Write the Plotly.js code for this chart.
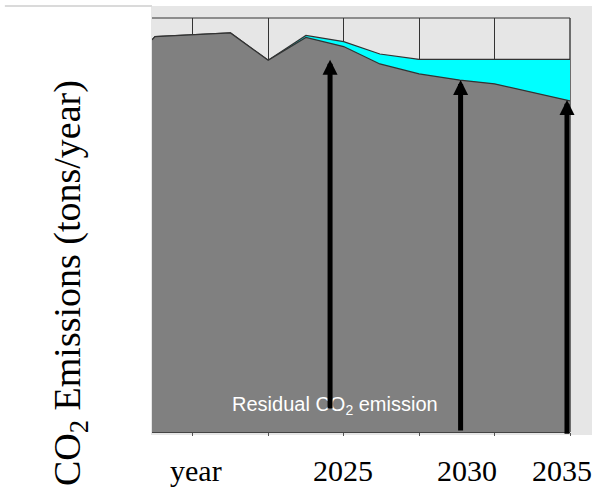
<!DOCTYPE html>
<html>
<head>
<meta charset="utf-8">
<script src="https://cdn.plot.ly/plotly-3.0.1.min.js"></script>
<style>html,body{margin:0;padding:0;background:#fff;}#chart{width:600px;height:489px;}</style>
</head>
<body>
<div id="chart"></div>
<script>
// Schematic emission path (x in years, y in arbitrary tons/year units)
var baseYears   = [2012.3, 2012.5, 2017.5, 2020, 2022.5, 2025, 2027.4, 2030, 2032.7, 2035, 2040];
var baseValues  = [9.47, 9.55, 9.64, 8.98, 9.53, 9.31, 8.89, 8.65, 8.50, 8.41, 8.00];
var upperYears  = [2012.3, 2012.5, 2017.5, 2020, 2022.5, 2025, 2027.4, 2030, 2032.7, 2035, 2040];
var upperValues = [9.47, 9.55, 9.64, 8.98, 9.58, 9.43, 9.13, 9.00, 9.00, 9.00, 9.00];

// Arrows: x position, tip value, base value
var arrowYears = [2024.1, 2032.75, 2039.8];
var arrowTips  = [8.99, 8.50, 8.02];
var arrowBases = [0.53, 0.0, -0.08];

// Axis labels (annotation positions in years)
var labelYears = [2015.2, 2024.93, 2033.2, 2039.5];
var labelTexts = ['year', '2025', '2030', '2035'];

var traces = [
  {x: upperYears, y: upperValues, type: 'scatter', mode: 'lines', fill: 'tozeroy',
   fillcolor: '#00ffff', line: {color: '#333333', width: 1.2}, hoverinfo: 'skip'},
  {x: baseYears, y: baseValues, type: 'scatter', mode: 'lines', fill: 'tozeroy',
   fillcolor: '#808080', line: {color: '#333333', width: 1.2}, hoverinfo: 'skip'}
];

var annotations = [];
annotations.push({
  text: 'Residual CO<sub>2</sub> emission', x: 2024.4, y: 0.65, xref: 'x', yref: 'y',
  showarrow: false, font: {family: 'Liberation Sans, Arial', size: 20, color: '#ffffff'},
  xanchor: 'center', yanchor: 'middle'
});
for (var i = 0; i < arrowYears.length; i++) {
  annotations.push({
    text: '', x: arrowYears[i], y: arrowTips[i], xref: 'x', yref: 'y',
    ax: arrowYears[i], ay: arrowBases[i], axref: 'x', ayref: 'y',
    showarrow: true, arrowhead: 2, arrowwidth: 5, arrowsize: 0.6, arrowcolor: '#000000',
    standoff: 0
  });
}
for (var j = 0; j < labelYears.length; j++) {
  annotations.push({
    text: labelTexts[j], x: labelYears[j], y: -0.094, xref: 'x', yref: 'paper',
    showarrow: false, xanchor: 'center', yanchor: 'middle',
    font: {family: 'Liberation Serif, Times New Roman', size: 30, color: '#000000'}
  });
}
annotations.push({
  text: 'CO<sub>2</sub> Emissions (tons/year)', textangle: -90,
  x: -0.196, y: 0.36, xref: 'paper', yref: 'paper', showarrow: false,
  xanchor: 'center', yanchor: 'middle',
  font: {family: 'Liberation Serif, Times New Roman', size: 38, color: '#000000'}
});

var layout = {
  width: 600, height: 489,
  margin: {l: 152, r: 30, t: 18, b: 57},
  paper_bgcolor: '#ffffff', plot_bgcolor: '#e6e6e6',
  showlegend: false,
  xaxis: {range: [2012.3, 2040], tick0: 2015, dtick: 5, showgrid: true, gridcolor: '#333333',
          gridwidth: 1, zeroline: false, showticklabels: false, ticks: 'outside', ticklen: 3,
          tickcolor: '#555555', showline: true, linecolor: '#444444', linewidth: 1},
  yaxis: {range: [0, 10], dtick: 1, showgrid: true, gridcolor: '#333333', gridwidth: 1,
          zeroline: false, showticklabels: false, ticks: '', showline: false},
  shapes: [
    {type: 'rect', xref: 'paper', yref: 'paper', x0: -0.0024, x1: 1.0526, y0: -0.0072, y1: 1.029,
     fillcolor: '#e6e6e6', line: {width: 0}, layer: 'below'},
    {type: 'line', xref: 'paper', yref: 'paper', x0: -0.352, x1: 0, y0: 1.029, y1: 1.029,
     line: {color: '#dadada', width: 2}, layer: 'below'},
    {type: 'line', xref: 'paper', yref: 'paper', x0: 0, x1: 1, y0: 1, y1: 1,
     line: {color: '#333333', width: 1}, layer: 'below'},
    {type: 'line', xref: 'paper', yref: 'paper', x0: 1, x1: 1, y0: 0, y1: 1,
     line: {color: '#444444', width: 1.5}, layer: 'below'}
  ],
  annotations: annotations
};

Plotly.newPlot('chart', traces, layout, {staticPlot: true});
</script>
</body>
</html>
